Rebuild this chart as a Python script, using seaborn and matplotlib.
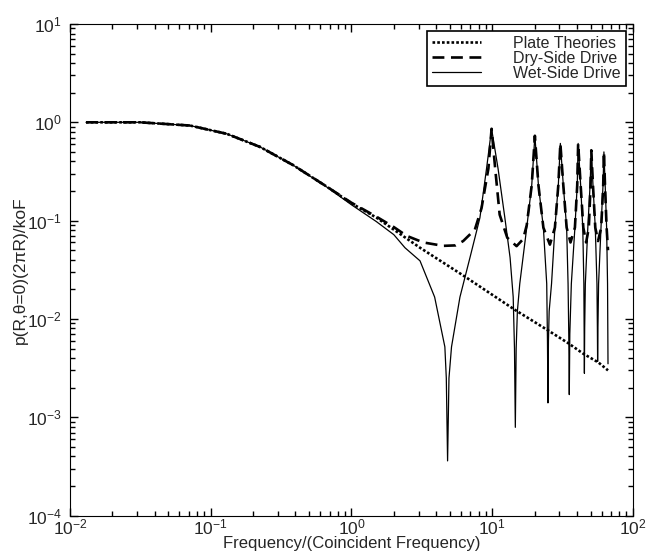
import matplotlib
matplotlib.use("Agg")
import matplotlib.pyplot as plt
from matplotlib.ticker import LogLocator, NullFormatter
import pandas as pd
import seaborn as sns

# frequency / coincident frequency
plate_f = [0.013, 0.0314, 0.0713, 0.130, 0.224, 0.385, 0.667, 1.0, 1.51, 3.07,
           6.22, 14.6, 24.4, 34.7, 44.4, 57.0, 66.5]
plate_p = [1.0, 1.0, 0.927, 0.764, 0.562, 0.367, 0.222, 0.15, 0.107, 0.053,
           0.0277, 0.0123, 0.0078, 0.00567, 0.00443, 0.0036, 0.0030]

dry_f = [0.013, 0.0314, 0.0713, 0.130, 0.224, 0.385, 0.667, 1.0, 1.5, 2.0,
         2.47, 3.24, 4.49, 5.5, 6.22, 7.53, 8.4, 9.4, 9.9, 10.5,
         11.3, 12.8, 14.9, 16.6, 17.6, 19.1, 20.1, 21.3, 23.1, 25.7,
         27.9, 29.5, 30.5, 32.0, 33.8, 36.0, 38.7, 40.2, 40.8, 42.5,
         44.4, 46.5, 48.6, 50.0, 50.6, 52.0, 54.0, 56.5, 59.5, 61.5,
         62.2, 63.3, 65.0, 66.5]
dry_p = [1.0, 1.0, 0.927, 0.764, 0.562, 0.367, 0.222, 0.152, 0.110, 0.086,
         0.070, 0.060, 0.0554, 0.056, 0.062, 0.081, 0.134, 0.34, 0.86, 0.34,
         0.115, 0.067, 0.055, 0.065, 0.090, 0.23, 0.73, 0.23, 0.085, 0.057,
         0.085, 0.23, 0.61, 0.23, 0.085, 0.060, 0.085, 0.23, 0.61, 0.23,
         0.085, 0.060, 0.085, 0.23, 0.52, 0.23, 0.085, 0.062, 0.085, 0.23,
         0.50, 0.23, 0.085, 0.050]

wet_f = [0.013, 0.0314, 0.0713, 0.130, 0.224, 0.385, 0.667, 1.0, 1.5, 2.0,
         2.4, 3.07, 3.9, 4.61, 4.72, 4.82, 4.93, 5.14, 5.9, 6.95,
         8.18, 9.12, 9.9, 11.0, 12.3, 13.4, 14.1, 14.4, 14.6, 14.8,
         15.1, 15.7, 17.6, 19.1, 20.1, 21.3, 23.1, 24.4, 24.7, 24.9,
         25.1, 25.4, 26.4, 27.9, 29.5, 30.5, 32.0, 33.8, 34.6, 35.0,
         35.3, 35.6, 36.5, 38.7, 40.2, 40.8, 42.5, 44.0, 44.8, 45.0,
         45.2, 45.4, 45.9, 47.8, 49.6, 50.6, 52.0, 54.0, 55.5, 55.9,
         56.1, 56.4, 57.0, 59.3, 61.3, 62.2, 63.5, 65.0, 66.0, 66.5]
wet_p = [1.0, 1.0, 0.927, 0.764, 0.562, 0.367, 0.220, 0.145, 0.098, 0.072,
         0.053, 0.039, 0.0167, 0.0052, 0.0025, 0.00036, 0.0025, 0.0052, 0.0167, 0.042,
         0.107, 0.34, 0.86, 0.34, 0.107, 0.042, 0.0167, 0.005, 0.00079, 0.005,
         0.012, 0.0228, 0.085, 0.23, 0.73, 0.23, 0.085, 0.0228, 0.006, 0.0014,
         0.006, 0.012, 0.0228, 0.085, 0.23, 0.61, 0.23, 0.085, 0.0228, 0.007,
         0.0017, 0.007, 0.0228, 0.085, 0.23, 0.61, 0.23, 0.085, 0.0228, 0.008,
         0.0028, 0.008, 0.0228, 0.085, 0.23, 0.52, 0.23, 0.085, 0.0228, 0.008,
         0.0037, 0.008, 0.0228, 0.085, 0.23, 0.50, 0.23, 0.085, 0.0228, 0.0035]

sns.set_style("ticks", {
    "xtick.direction": "in", "ytick.direction": "in",
    "axes.edgecolor": "black", "axes.linewidth": 1.4,
})
plt.rcParams["font.family"] = ["Liberation Sans", "DejaVu Sans"]
plt.rcParams["mathtext.default"] = "regular"

plate_df = pd.DataFrame({"f": plate_f, "p": plate_p})
dry_df = pd.DataFrame({"f": dry_f, "p": dry_p})
wet_df = pd.DataFrame({"f": wet_f, "p": wet_p})

fig, ax = plt.subplots(figsize=(6.6, 5.58), dpi=100)
fig.subplots_adjust(left=0.106, right=0.959, top=0.957, bottom=0.076)

sns.lineplot(data=plate_df, x="f", y="p", ax=ax, color="black", lw=1.9,
             linestyle=(0, (1, 0.8)), label="Plate Theories")
sns.lineplot(data=dry_df, x="f", y="p", ax=ax, color="black", lw=1.9,
             linestyle=(0, (4.5, 2.5)), label="Dry-Side Drive")
sns.lineplot(data=wet_df, x="f", y="p", ax=ax, color="black", lw=0.9,
             label="Wet-Side Drive")

ax.set_xlabel("Frequency/(Coincident Frequency)", fontsize=12, labelpad=-1)
ax.set_ylabel("p(R,θ=0)(2πR)/koF", fontsize=12.5, labelpad=-1)

leg = ax.legend(loc="upper right", fontsize=11.5, frameon=True, fancybox=False,
                edgecolor="black", framealpha=1, handlelength=3.1,
                handletextpad=2.0, labelspacing=0.0, borderpad=0.3,
                borderaxespad=0.45)
leg.get_frame().set_linewidth(1.2)

# log axes, ticks inside on all four sides
ax.set_xscale("log")
ax.set_yscale("log")
ax.set_xlim(1e-2, 1e2)
ax.set_ylim(1e-4, 1e1)
for axis in (ax.xaxis, ax.yaxis):
    axis.set_major_locator(LogLocator(base=10, numticks=20))
    axis.set_minor_locator(LogLocator(base=10, subs=(2, 3, 4, 5, 6, 7, 8, 9),
                                      numticks=100))
    axis.set_minor_formatter(NullFormatter())
ax.tick_params(which="both", top=True, right=True, bottom=True, left=True,
               direction="in", color="black")
ax.tick_params(which="major", length=6, width=1.0, labelsize=12.5)
ax.tick_params(which="minor", length=3.5, width=1.0)
ax.tick_params(axis="y", which="major", pad=6)
ax.tick_params(axis="x", which="major", pad=1.5)

fig.savefig("out.png", dpi=100)
